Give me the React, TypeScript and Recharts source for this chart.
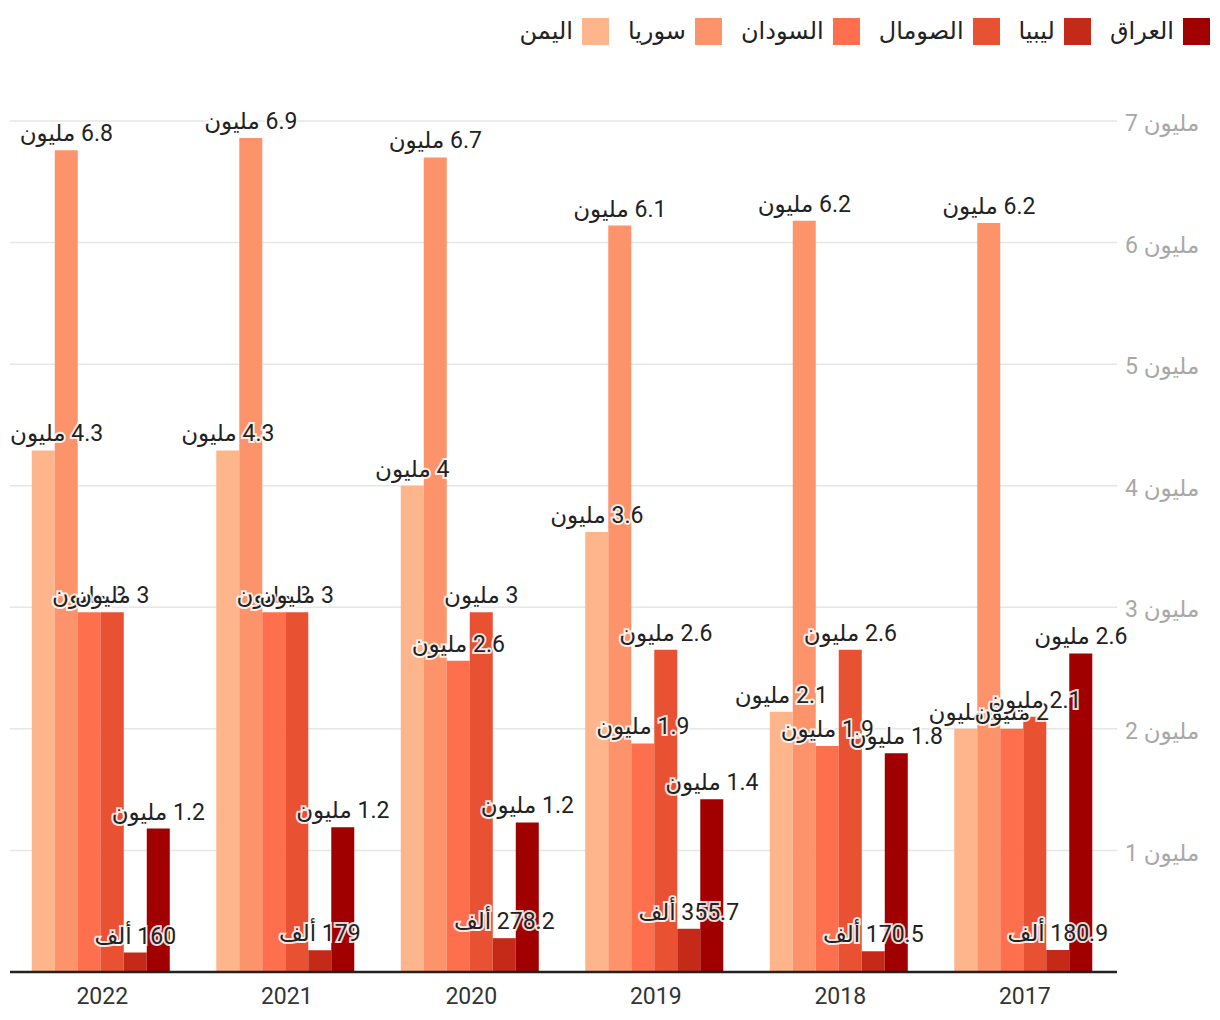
import { BarChart, Bar, XAxis, YAxis, CartesianGrid, LabelList } from 'recharts';

const years = ['2022', '2021', '2020', '2019', '2018', '2017'];

// values in millions
const yemen = [4.29, 4.29, 4.0, 3.62, 2.14, 2.0];
const syria = [6.76, 6.86, 6.7, 6.14, 6.18, 6.16];
const sudan = [2.96, 2.96, 2.56, 1.88, 1.86, 2.0];
const somalia = [2.96, 2.96, 2.96, 2.65, 2.65, 2.1];
const libya = [0.16, 0.179, 0.2782, 0.3557, 0.1705, 0.1809];
const iraq = [1.18, 1.19, 1.23, 1.42, 1.8, 2.62];

const yTicks = [1, 2, 3, 4, 5, 6, 7];

const series = [
  { key: 'yemen', name: 'اليمن', color: '#feb58b', values: yemen },
  { key: 'syria', name: 'سوريا', color: '#fd936b', values: syria },
  { key: 'sudan', name: 'السودان', color: '#fe6f4e', values: sudan },
  { key: 'somalia', name: 'الصومال', color: '#e95133', values: somalia },
  { key: 'libya', name: 'ليبيا', color: '#c52a18', values: libya },
  { key: 'iraq', name: 'العراق', color: '#a10000', values: iraq },
];

const data = years.map((year, i) => {
  const row: Record<string, string | number> = { year };
  series.forEach((s) => {
    row[s.key] = s.values[i];
  });
  return row;
});

const FONT = "Roboto, 'DejaVu Sans', sans-serif";
const LABEL_SIZE = 23;
const PLOT_LEFT = 10;

const formatValue = (v: number) => {
  if (v >= 1) return `${Number(v.toFixed(1))} مليون`;
  return `${Number((v * 1000).toFixed(1))} ألف`;
};

let ctx: CanvasRenderingContext2D | null = null;
const textWidth = (s: string) => {
  if (!ctx) ctx = document.createElement('canvas').getContext('2d');
  if (!ctx) return s.length * LABEL_SIZE * 0.5;
  ctx.font = `${LABEL_SIZE}px ${FONT}`;
  return ctx.measureText(s).width;
};

const BarLabel = (props: any) => {
  const { x, y, width, value } = props;
  const text = formatValue(value);
  const w = textWidth(text);
  // keep labels inside the plot on the left edge
  const cx = Math.max(x + width / 2, PLOT_LEFT + w / 2);
  return (
    <text
      x={cx}
      y={y - 9}
      textAnchor="middle"
      direction="rtl"
      fontFamily={FONT}
      fontSize={LABEL_SIZE}
      fill="#222"
      stroke="rgba(255,255,255,0.85)"
      strokeWidth={4}
      paintOrder="stroke"
      style={{ unicodeBidi: 'embed' }}
    >
      {text}
    </text>
  );
};

const Legend = () => (
  <div
    style={{
      position: 'absolute',
      top: 18,
      right: 10,
      display: 'flex',
      flexDirection: 'row-reverse',
      gap: 19,
      fontFamily: FONT,
      fontSize: 24,
      color: '#222',
    }}
  >
    {[...series].reverse().map((s) => (
      <div key={s.key} style={{ display: 'flex', flexDirection: 'row-reverse', alignItems: 'center', gap: 9 }}>
        <div style={{ width: 27, height: 27, background: s.color }} />
        <span style={{ lineHeight: '27px' }}>{s.name}</span>
      </div>
    ))}
  </div>
);

export default function App() {
  return (
    <div style={{ position: 'absolute', top: 0, left: 0, width: 1220, height: 1020, background: '#fff' }}>
      <Legend />
      <BarChart
        width={1220}
        height={1020}
        data={data}
        margin={{ top: 121, right: 0, bottom: 0, left: PLOT_LEFT }}
        barCategoryGap="11.8%"
        barGap={0}
      >
        <CartesianGrid vertical={false} stroke="#e6e6e6" strokeWidth={1.5} />
        <XAxis
          dataKey="year"
          height={48}
          tickLine={false}
          axisLine={{ stroke: '#222', strokeWidth: 2.5 }}
          tick={{ fill: '#333', fontSize: 23, fontFamily: FONT, dy: 8 }}
        />
        <YAxis
          orientation="right"
          width={103}
          domain={[0, 7]}
          ticks={yTicks}
          axisLine={false}
          tickLine={false}
          tickFormatter={(v: number) => `${v} مليون`}
          tick={{ fill: '#a8a8a8', fontSize: 23, fontFamily: FONT, textAnchor: 'start', dy: 2 }}
        />
        {series.map((s) => (
          <Bar key={s.key} dataKey={s.key} name={s.name} fill={s.color} isAnimationActive={false}>
            <LabelList dataKey={s.key} content={BarLabel} />
          </Bar>
        ))}
      </BarChart>
    </div>
  );
}
